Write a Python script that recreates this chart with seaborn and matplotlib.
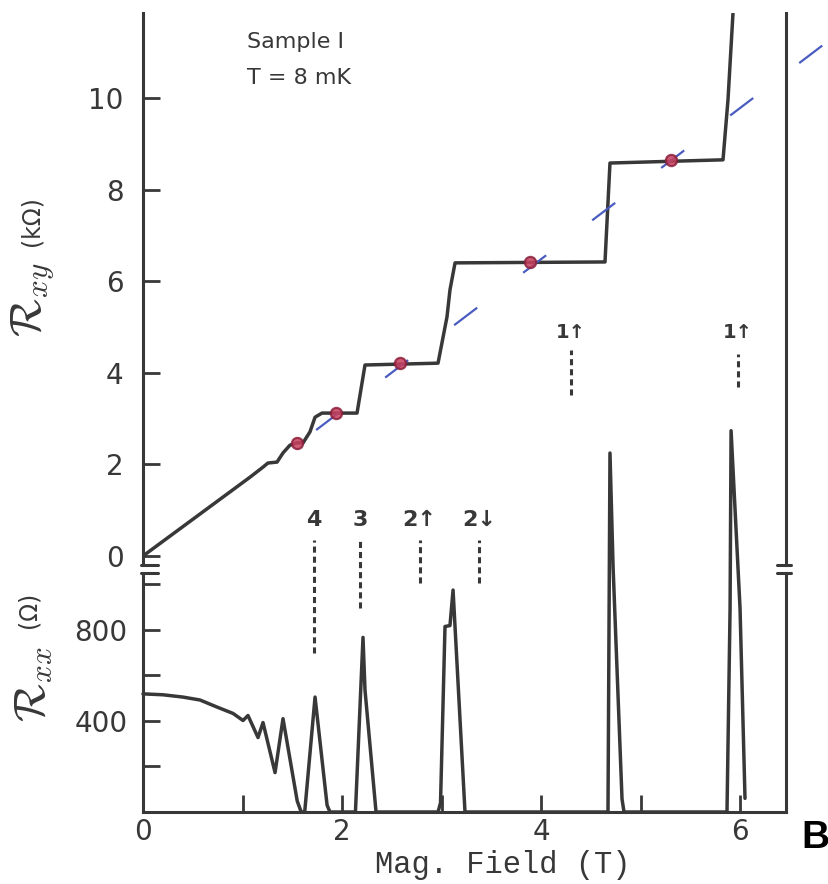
import numpy as np
import pandas as pd
import matplotlib
matplotlib.use("Agg")
import matplotlib.pyplot as plt
import seaborn as sns

# ---------------- data ----------------
# Hall resistance R_xy (kOhm) versus magnetic field (T)
field_xy = [0.0, 1.075, 1.206, 1.256, 1.347, 1.407, 1.477, 1.548, 1.608, 1.678,
            1.729, 1.799, 2.151, 2.231, 2.965, 3.055, 3.085, 3.136, 4.643, 4.693,
            5.829, 5.879, 5.930, 5.960]
rxy_kohm = [0.0, 1.72, 1.94, 2.03, 2.05, 2.25, 2.42, 2.47, 2.47, 2.71,
            3.03, 3.12, 3.12, 4.17, 4.21, 5.22, 5.81, 6.40, 6.42, 8.58,
            8.65, 9.96, 11.88, 12.6]

# Longitudinal resistance R_xx (Ohm) versus magnetic field (T)
field_xx = [0.0, 0.20, 0.40, 0.573, 0.744, 0.905, 1.005, 1.055, 1.156, 1.206,
            1.327, 1.407, 1.550, 1.590, 1.625, 1.729, 1.850, 1.879, 2.135, 2.211,
            2.231, 2.342, 2.965, 2.990, 3.035, 3.085, 3.116, 3.236, 4.673, 4.693,
            4.724, 4.814, 4.834, 5.869, 5.900, 5.910, 6.000, 6.050]
rxx_ohm = [519, 515, 505, 492, 461, 433, 402, 424, 327, 393,
           173, 410, 48, 0, 0, 505, 30, 0, 0, 767,
           536, 0, 0, 40, 815, 819, 975, 0, 0, 1577,
           1079, 57, 0, 0, 896, 1675, 896, 60]

# Quantised points on the classical Hall line
mark_field = [1.548, 1.94, 2.58, 3.89, 5.31]
mark_rxy = [2.47, 3.12, 4.21, 6.42, 8.65]

# Classical Hall line (dashed blue)
line_field = [1.74, 6.86]
line_rxy = [2.75, 11.2]

# Landau-level labels over R_xx (positions in R_xx units, drawn above the panel)
lab_field = [1.72, 2.18, 2.78, 3.38]
lab_text = ["4", "3", "2\u2191", "2\u2193"]
lab_y = 1284
lab_dash_top = [1196, 1196, 1196, 1196]
lab_dash_bot = [699, 897, 1007, 1007]

# spin labels inside the R_xy panel (positions in kOhm units)
lab1_field = [4.30, 5.98]
lab1_text = ["1\u2191", "1\u2191"]
lab1_y = [4.87, 4.87]
lab1_dash_top = [4.50, 4.40]
lab1_dash_bot = [3.52, 3.70]

xy_ticks = [0, 2, 4, 6, 8, 10]
xx_major = [400, 800]
xx_minor = [200, 600, 1000]
b_major = [0, 2, 4, 6]
b_minor = [1, 3, 5]

# ---------------- style ----------------
sns.set_theme(style="white")
plt.rcParams["font.family"] = ["DejaVu Sans"]
INK = "#383838"
BLUE = "#4a5cc0"
RED = "#c8405e"

W, H, DPI = 829, 884, 100
fig = plt.figure(figsize=(W / DPI, H / DPI), dpi=DPI)
fig.patch.set_facecolor("white")


def px_axes(x0, y0, x1, y1):
    return fig.add_axes([x0 / W, 1 - y1 / H, (x1 - x0) / W, (y1 - y0) / H])


ax_top = px_axes(143, 13, 786, 565)
ax_bot = px_axes(143, 573, 786, 812)
for ax in (ax_top, ax_bot):
    ax.set_facecolor("none")
    ax.set_xlim(0, 6.462)
    for s in ax.spines.values():
        s.set_color(INK)
        s.set_linewidth(2.2)
ax_top.set_ylim(-0.197, 11.856)
ax_bot.set_ylim(0, 1050)
ax_top.spines["top"].set_visible(False)
ax_top.spines["bottom"].set_visible(False)
ax_bot.spines["top"].set_visible(False)

# ---------------- marks ----------------
df_xy = pd.DataFrame({"B": field_xy, "R": rxy_kohm})
sns.lineplot(data=df_xy, x="B", y="R", ax=ax_top, color=INK, linewidth=2.5,
             sort=False, estimator=None)

df_xx = pd.DataFrame({"B": field_xx, "R": rxx_ohm})
sns.lineplot(data=df_xx, x="B", y="R", ax=ax_bot, color=INK, linewidth=2.5,
             sort=False, estimator=None, clip_on=False)

ax_top.plot(line_field, line_rxy, color=BLUE, linewidth=1.6,
            linestyle=(0, (13, 26)), clip_on=False, zorder=4)

sns.scatterplot(x=mark_field, y=mark_rxy, ax=ax_top, s=65, color=RED,
                edgecolor="#8c1f3c", linewidth=1.6, alpha=0.85, zorder=5)

for b, t, top, bot in zip(lab_field, lab_text, lab_dash_top, lab_dash_bot):
    ax_bot.vlines(b, bot, top, color=INK, linewidth=2.2,
                  linestyle=(0, (2, 1.3)), clip_on=False)
    ax_bot.text(b, lab_y, t, ha="center", va="center", fontsize=16,
                fontweight="bold", color=INK, clip_on=False)

for b, t, yy, top, bot in zip(lab1_field, lab1_text, lab1_y, lab1_dash_top, lab1_dash_bot):
    ax_top.vlines(b, bot, top, color=INK, linewidth=2.2,
                  linestyle=(0, (2, 1.3)))
    ax_top.text(b, yy, t, ha="center", va="center", fontsize=14,
                fontweight="bold", color=INK)

# ---------------- axes & ticks ----------------
ax_top.set_xticks([])
ax_top.set_yticks(xy_ticks)
ax_top.set_yticklabels([str(v) for v in xy_ticks])
ax_top.tick_params(axis="y", direction="in", length=12, width=2, color=INK,
                   labelsize=20, pad=14, labelcolor=INK, left=True)

ax_bot.set_yticks(xx_major)
ax_bot.set_yticklabels([str(v) for v in xx_major])
ax_bot.set_yticks(xx_minor, minor=True)
ax_bot.set_xticks(b_major)
ax_bot.set_xticklabels([str(v) for v in b_major])
ax_bot.set_xticks(b_minor, minor=True)
ax_bot.tick_params(axis="both", which="both", direction="in", length=12, width=2,
                   color=INK, labelsize=20, labelcolor=INK, left=True, bottom=True)
ax_bot.tick_params(axis="y", which="major", pad=11)
ax_bot.tick_params(axis="x", which="major", pad=4)
for ax in (ax_top, ax_bot):
    ax.set_xlabel("")
    ax.set_ylabel("")

# axis-break marks
dl, dr = 2 / 643, 15 / 643
for ax, yy in ((ax_top, 0), (ax_bot, 1)):
    ax.plot([-dl, dr], [yy, yy], transform=ax.transAxes, color=INK, lw=2.2, clip_on=False)
    ax.plot([1 - 9 / 643, 1 + 5 / 643], [yy, yy], transform=ax.transAxes,
            color=INK, lw=2.2, clip_on=False)

# ---------------- text ----------------
fig.text(247 / W, 1 - 42 / H, "Sample I", ha="left", va="center", fontsize=16, color=INK)
fig.text(247 / W, 1 - 78 / H, "T = 8 mK", ha="left", va="center", fontsize=16, color=INK)

fig.text(503 / W, 1 - 865 / H, "Mag. Field (T)", ha="center", va="center",
         fontsize=22, family="Liberation Mono", color=INK)

fig.text(33 / W, 1 - 300 / H, r"$\mathcal{R}_{xy}$", rotation=90, ha="center",
         va="center", fontsize=32, math_fontfamily="cm", color=INK)
fig.text(31 / W, 1 - 221 / H, "(k\u03a9)", rotation=90, ha="center", va="center",
         fontsize=17, color=INK)
fig.text(33 / W, 1 - 684 / H, r"$\mathcal{R}_{xx}$", rotation=90, ha="center",
         va="center", fontsize=32, math_fontfamily="cm", color=INK)
fig.text(29 / W, 1 - 610 / H, "(\u03a9)", rotation=90, ha="center", va="center",
         fontsize=17, color=INK)

fig.text(815 / W, 1 - 838 / H, "B", ha="center", va="center", fontsize=28,
         fontweight="bold", family="Liberation Sans", color="black")

fig.savefig("out.png", dpi=DPI, facecolor="white")
